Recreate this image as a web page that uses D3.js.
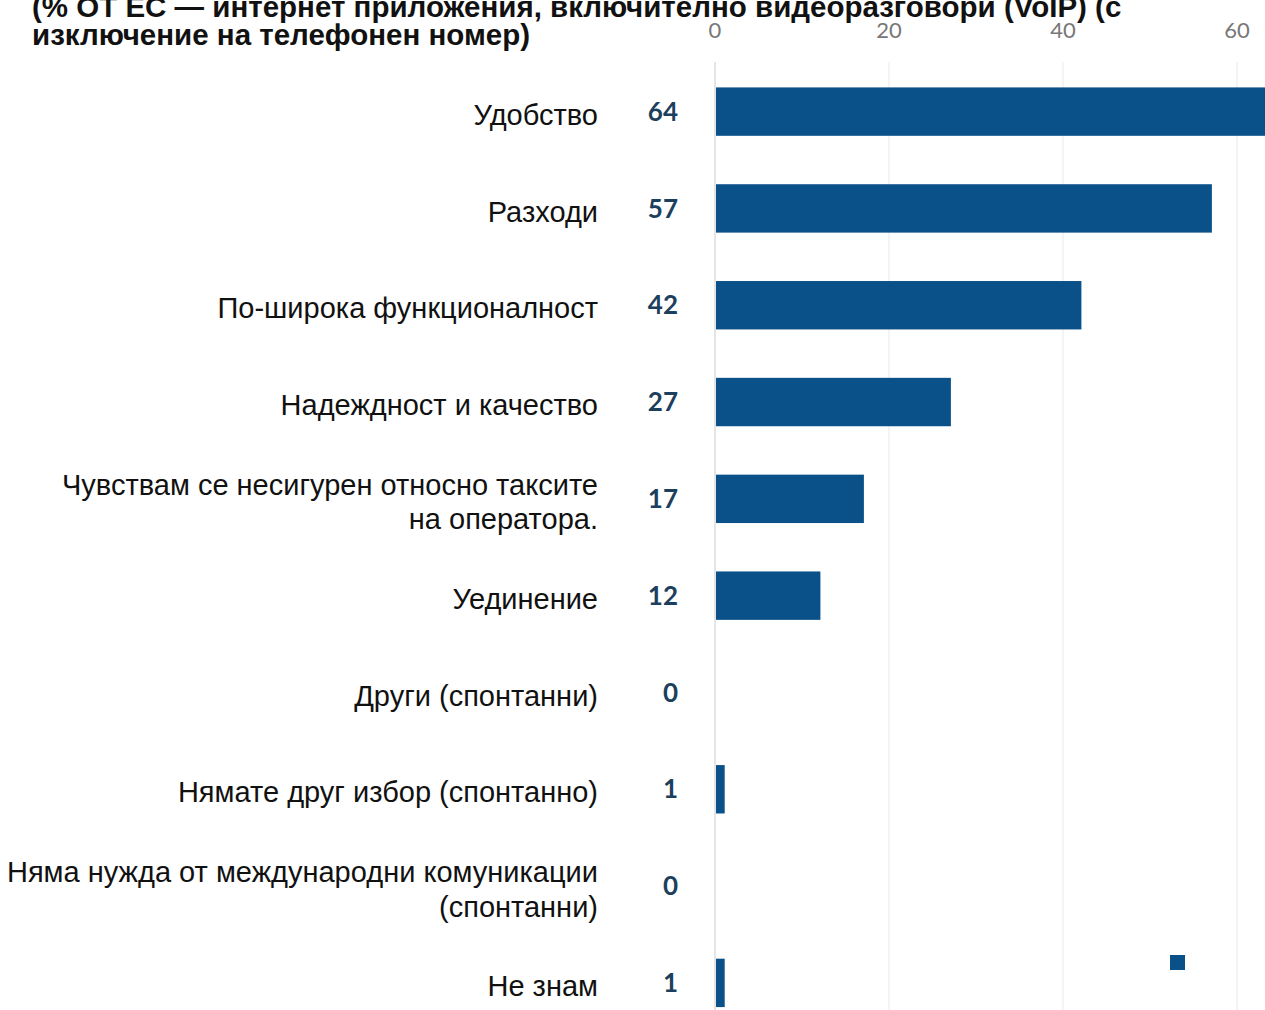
<!DOCTYPE html>
<html>
<head>
<meta charset="utf-8">
<script src="https://cdn.jsdelivr.net/npm/d3@7"></script>
<style>
  body { margin: 0; background: #fff; overflow: hidden; }
  svg { display: block; }
</style>
</head>
<body>
<svg width="1265" height="1010"></svg>
<script>
const width = 1265;
const height = 1010;

// data
const categories = [
  ["Удобство"],
  ["Разходи"],
  ["По-широка функционалност"],
  ["Надеждност и качество"],
  ["Чувствам се несигурен относно таксите", "на оператора."],
  ["Уединение"],
  ["Други (спонтанни)"],
  ["Нямате друг избор (спонтанно)"],
  ["Няма нужда от международни комуникации", "(спонтанни)"],
  ["Не знам"]
];
const values = [64, 57, 42, 27, 17, 12, 0, 1, 0, 1];
const ticks = [0, 20, 40, 60];
const titleLines = [
  "(% ОТ ЕС — интернет приложения, включително видеоразговори (VoIP) (с",
  "изключение на телефонен номер)"
];

const barColor = "#0b5189";

const svg = d3.select("svg");

let x = d3.scaleLinear().domain([0, 60]).range([715, 1237]);

let y = d3
  .scaleBand()
  .domain(d3.range(categories.length))
  .range([39, 1055.5])
  .paddingInner(0.5)
  .paddingOuter(0.5);

// gridlines
svg.append("g")
  .selectAll("line")
  .data(ticks)
  .join("line")
  .attr("x1", d => x(d))
  .attr("x2", d => x(d))
  .attr("y1", 62)
  .attr("y2", height)
  .attr("stroke", (d, i) => (i === 0 ? "#d4d4d4" : "#ececec"))
  .attr("stroke-width", 1.2);

// title (partly cut off at the top, as in the source)
svg.append("g")
  .selectAll("text")
  .data(titleLines)
  .join("text")
  .attr("x", 32)
  .attr("y", (d, i) => 17 + i * 28)
  .attr("font-family", "'Liberation Sans', Arial, sans-serif")
  .attr("font-weight", "bold")
  .attr("font-size", 29.5)
  .attr("fill", "#111")
  .text(d => d);

// top axis labels
svg.append("g")
  .selectAll("text")
  .data(ticks)
  .join("text")
  .attr("x", d => x(d))
  .attr("y", 38)
  .attr("text-anchor", "middle")
  .attr("font-family", "Lato, 'Open Sans', sans-serif")
  .attr("font-size", 22)
  .attr("fill", "#777")
  .text(d => d);

// bars
svg.append("g")
  .selectAll("rect")
  .data(values)
  .join("rect")
  .attr("x", x(0) + 1)
  .attr("y", (d, i) => y(i))
  .attr("width", d => Math.max(0, x(d) - x(0)))
  .attr("height", y.bandwidth())
  .attr("fill", barColor);

// value labels
svg.append("g")
  .selectAll("text")
  .data(values)
  .join("text")
  .attr("x", 678)
  .attr("y", (d, i) => y(i) + y.bandwidth() / 2)
  .attr("dy", "0.35em")
  .attr("text-anchor", "end")
  .attr("font-family", "Lato, 'Open Sans', sans-serif")
  .attr("font-weight", "bold")
  .attr("font-size", 26)
  .attr("fill", "#1d3f5e")
  .text(d => d);

// category labels
const labels = svg.append("g")
  .selectAll("text")
  .data(categories)
  .join("text")
  .attr("text-anchor", "end")
  .attr("font-family", "'Liberation Sans', Arial, sans-serif")
  .attr("font-size", 29)
  .attr("fill", "#111")
  .attr("transform", (d, i) => {
    const cy = y(i) + y.bandwidth() / 2 - (d.length - 1) * 17.5 + 3;
    return `translate(598,${cy})`;
  });

labels.selectAll("tspan")
  .data(d => d)
  .join("tspan")
  .attr("x", 0)
  .attr("y", (d, i) => i * 35)
  .attr("dy", "0.35em")
  .text(d => d);

// legend swatch
svg.append("rect")
  .attr("x", 1170)
  .attr("y", 955)
  .attr("width", 15)
  .attr("height", 15)
  .attr("fill", barColor);
</script>
</body>
</html>
